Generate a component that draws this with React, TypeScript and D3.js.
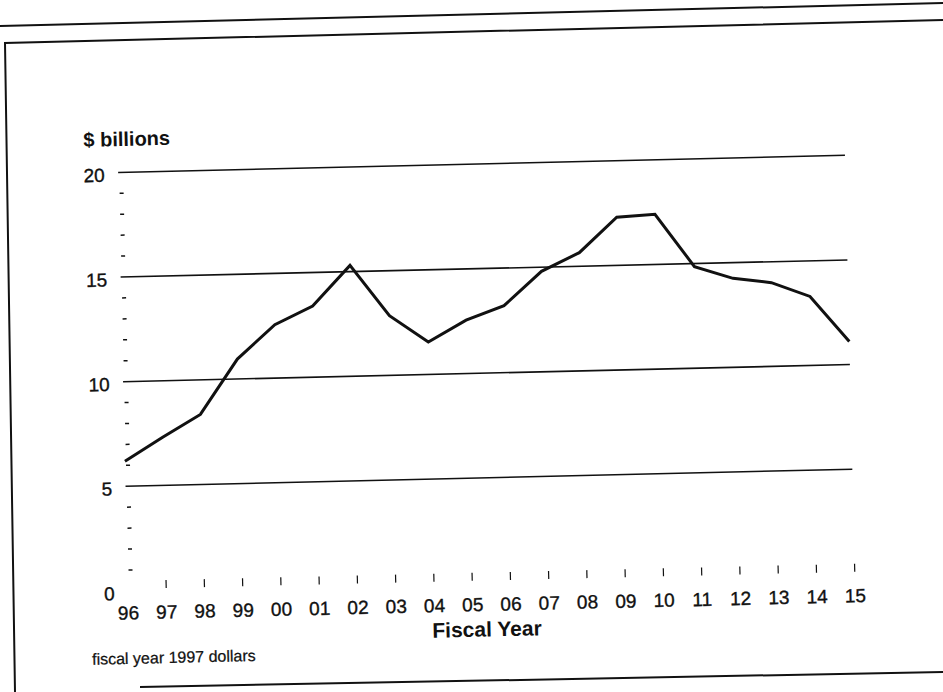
import React from "react";
import * as d3 from "d3";

// fiscal years (two-digit labels) and spending in $ billions, fiscal year 1997 dollars
const years = ["96", "97", "98", "99", "00", "01", "02", "03", "04", "05", "06", "07", "08", "09", "10", "11", "12", "13", "14", "15"];
const spending = [6.2, 7.3, 8.35, 10.95, 12.55, 13.4, 15.3, 12.85, 11.55, 12.55, 13.2, 14.8, 15.65, 17.3, 17.4, 14.85, 14.25, 14.0, 13.3, 11.1];

const gridValues = [5, 10, 15, 20];
const yTickLabels = [0, 5, 10, 15, 20];
const minorTicks = [1, 2, 3, 4, 6, 7, 8, 9, 11, 12, 13, 14, 16, 17, 18, 19];

const W = 943;
const H = 692;
const FONT = "'Liberation Sans', Arial, Helvetica, sans-serif";
const INK = "#111";

// the scanned page is slightly skewed
const TILT = -1.35;
const PIVOT = [125, 591];

export default function App() {
  const x = d3.scalePoint<string>().domain(years).range([128, 855]);
  const y = d3.scaleLinear().domain([0, 20]).range([591, 172.4]);

  const points = years.map((yr, i) => ({ yr, v: spending[i] }));
  const line = d3
    .line<{ yr: string; v: number }>()
    .x((d) => x(d.yr) as number)
    .y((d) => y(d.v));

  const x0 = x(years[0]) as number;
  const x1 = x(years[years.length - 1]) as number;

  // scanned text looks a bit heavier than a clean render
  const ink = { fill: INK, stroke: INK, strokeWidth: 0.35 };

  return (
    <svg
      width={W}
      height={H}
      style={{ position: "absolute", left: 0, top: 0, background: "#fff" }}
      fontFamily={FONT}
    >
      {/* page frame lines */}
      <g stroke={INK} strokeWidth={2} fill="none">
        <line x1={0} y1={26} x2={W} y2={3} />
        <polyline points={`${W},20 5,43 15,${H}`} />
        <line x1={140} y1={687} x2={W} y2={672} />
      </g>

      <g transform={`rotate(${TILT}, ${PIVOT[0]}, ${PIVOT[1]})`}>
        {/* gridlines */}
        {gridValues.map((v) => (
          <line key={v} x1={x0} x2={x1} y1={y(v)} y2={y(v)} stroke={INK} strokeWidth={1.6} />
        ))}

        {/* minor y dashes */}
        {minorTicks.map((v) => (
          <line key={v} x1={129} x2={133} y1={y(v)} y2={y(v)} stroke={INK} strokeWidth={1.5} />
        ))}

        {/* y labels */}
        {yTickLabels.map((v) => (
          <text key={v} x={114.5} y={y(v) + 9} fontSize={19} textAnchor="end" {...ink}>
            {v}
          </text>
        ))}

        <text x={94} y={146} fontSize={20} fontWeight="bold" fill={INK}>
          $ billions
        </text>

        {/* x ticks and labels */}
        {years.slice(1).map((yr) => (
          <line
            key={yr}
            x1={x(yr) as number}
            x2={x(yr) as number}
            y1={y(0) - 10}
            y2={y(0) - 2}
            stroke={INK}
            strokeWidth={1.2}
          />
        ))}
        {years.map((yr) => (
          <text key={yr} x={x(yr) as number} y={619.5} fontSize={19} textAnchor="middle" {...ink}>
            {yr}
          </text>
        ))}

        <text x={486} y={645} fontSize={21} fontWeight="bold" textAnchor="middle" fill={INK}>
          Fiscal Year
        </text>

        <text x={90.5} y={664} fontSize={16} {...ink} strokeWidth={0.25}>
          fiscal year 1997 dollars
        </text>

        {/* data line */}
        <path d={line(points) ?? ""} fill="none" stroke={INK} strokeWidth={3} strokeLinejoin="miter" />
      </g>
    </svg>
  );
}
